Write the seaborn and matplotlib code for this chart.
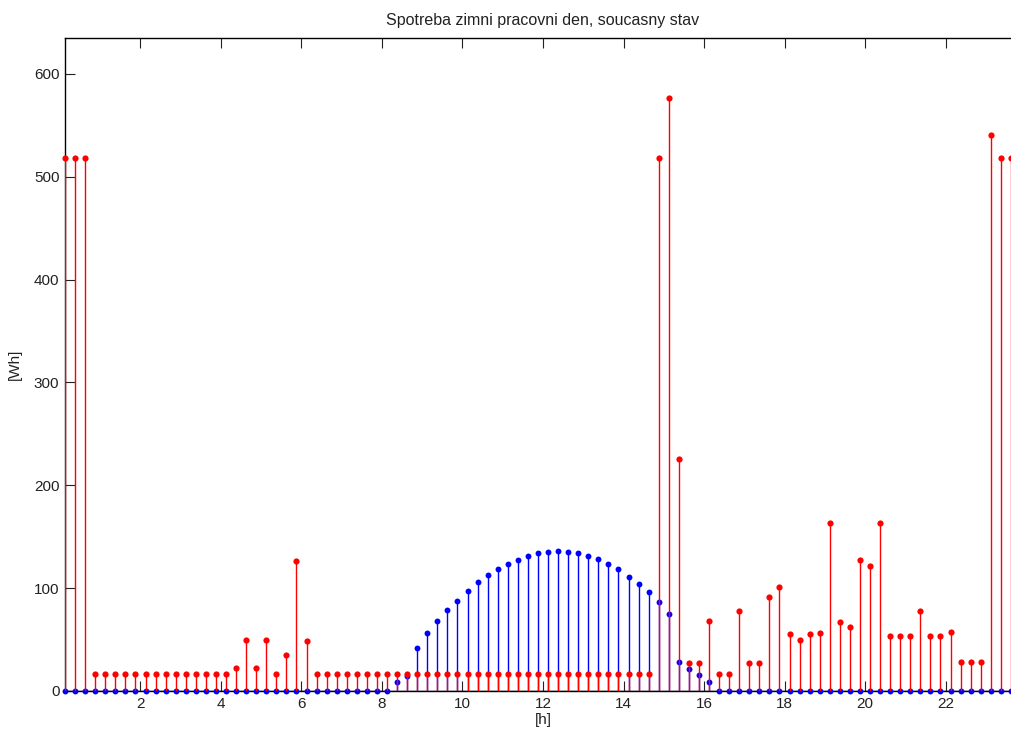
import numpy as np
import pandas as pd
import matplotlib
matplotlib.use("Agg")
import matplotlib.pyplot as plt
import seaborn as sns

# Quarter-hour slots over one day, plotted at the slot centres [h]
slot_hours = [0.125 + 0.25 * k for k in range(96)]

# Consumption per quarter hour [Wh]
consumption = (
    [518, 518, 518]
    + [17] * 14
    + [22, 50, 22, 50, 17, 35, 126, 49]
    + [17] * 34
    + [518, 577, 226, 27, 27, 68, 17, 17, 78, 27, 27, 91, 101, 55, 50, 55,
       56, 163, 67, 62, 127, 122, 163, 53, 53, 53, 78, 53, 53, 57, 28, 28,
       28, 541, 518, 518, 518]
)

# Solar production per quarter hour [Wh]
production = (
    [0] * 33
    + [9, 14.5, 42, 56, 68, 78.5, 88, 97.6, 105.7, 112.6, 118.4, 123.3,
       127.8, 131.4, 134, 135.3, 136.6, 135.3, 134, 131.4, 128.2, 123.3,
       118.4, 111.3, 104.5, 96, 86.5, 74.5, 27.8, 21.6, 15.8, 9]
    + [0] * 31
)

x_ticks = [2, 4, 6, 8, 10, 12, 14, 16, 18, 20, 22]
y_ticks = [0, 100, 200, 300, 400, 500, 600]

df = pd.DataFrame({"hour": slot_hours, "consumption": consumption,
                   "production": production})

sns.set_theme(style="ticks")
plt.rcParams["font.family"] = ["Liberation Sans", "DejaVu Sans"]

W, H = 1012, 734
fig = plt.figure(figsize=(W / 100, H / 100), dpi=100)
left, right, top, bottom = 65, 1021, 38, 691
ax = fig.add_axes([left / W, (H - bottom) / H, (right - left) / W, (bottom - top) / H])

# baseline
ax.axhline(0, color="black", lw=1.0, zorder=1)

# production stems
ax.vlines(df["hour"], 0, df["production"], colors="blue", lw=1.0, zorder=2)
sns.scatterplot(data=df, x="hour", y="production", ax=ax, color="blue",
                marker="o", s=18, linewidth=0, zorder=3, legend=False,
                clip_on=False)

# consumption stems
ax.vlines(df["hour"], 0, df["consumption"], colors="red", lw=1.0, zorder=4)
sns.scatterplot(data=df, x="hour", y="consumption", ax=ax, color="red",
                marker="o", s=20, linewidth=0, zorder=5, legend=False,
                clip_on=False)

ax.set_xlim(0.125, 23.875)
ax.set_ylim(0, 635)
ax.set_xticks(x_ticks)
ax.set_yticks(y_ticks)
ax.tick_params(direction="in", length=7, width=0.8, color="#222222",
               labelsize=11, labelcolor="#222222",
               top=True, right=True, bottom=True, left=True, pad=4)
for s in ax.spines.values():
    s.set_visible(True)
    s.set_color("black")
    s.set_linewidth(1.0)

ax.set_title("Spotreba zimni pracovni den, soucasny stav", fontsize=11.5,
             color="#222222", pad=9)
ax.set_xlabel("[h]", fontsize=11, color="#222222", labelpad=2)
ax.set_ylabel("[Wh]", fontsize=11, color="#222222", labelpad=9)

fig.savefig("out.png", dpi=100, facecolor="white")
